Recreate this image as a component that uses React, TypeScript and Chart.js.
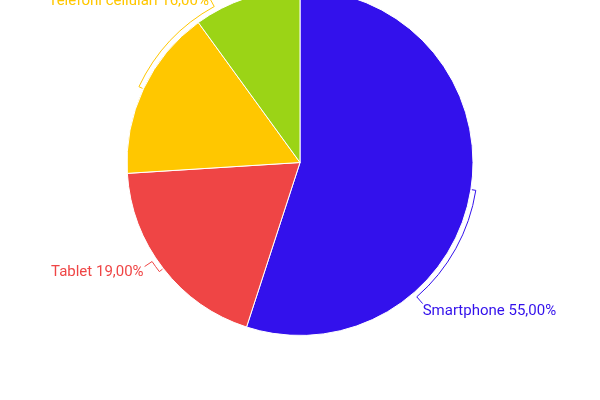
import { useEffect, useRef } from "react";
import { Chart, registerables, type ChartConfiguration, type Plugin } from "chart.js";

Chart.register(...registerables);

// device share, clockwise from 12 o'clock
const devices = ["Smartphone", "Tablet", "Telefoni cellulari", "Computer"];
const shares = [55, 19, 16, 10];
const sliceColors = ["#3311EC", "#EF4545", "#FFC700", "#9BD416"];

// label layout: push (deg) round from slice middle, and vertical nudge (px)
const labelShift = [40, 4, 36, 0];
const labelDy = [8, 5.5, 3, 3];

const fmt = (v: number) => v.toFixed(2).replace(".", ",") + "%";

const sliceLabels: Plugin<"pie"> = {
  id: "sliceLabels",
  afterDatasetsDraw(chart) {
    const ctx = chart.ctx;
    const meta = chart.getDatasetMeta(0);
    meta.data.forEach((el, i) => {
      const { x, y, startAngle, endAngle, outerRadius } = (el as any).getProps(
        ["x", "y", "startAngle", "endAngle", "outerRadius"],
        true
      );
      const mid = (startAngle + endAngle) / 2;
      const la = mid + (labelShift[i] * Math.PI) / 180;
      const r0 = outerRadius + 1;
      const r1 = outerRadius + 5;
      const r2 = outerRadius + 14;
      const color = sliceColors[i];

      ctx.save();
      ctx.strokeStyle = color;
      ctx.lineWidth = 1;
      ctx.beginPath();
      ctx.moveTo(x + r0 * Math.cos(mid), y + r0 * Math.sin(mid));
      ctx.lineTo(x + r1 * Math.cos(mid), y + r1 * Math.sin(mid));
      ctx.arc(x, y, r1, mid, la, la < mid);
      const ax = x + r2 * Math.cos(la);
      const ay = y + r2 * Math.sin(la);
      ctx.lineTo(ax, ay);
      ctx.stroke();

      ctx.fillStyle = color;
      ctx.font = "15px Roboto";
      ctx.textBaseline = "middle";
      const right = Math.cos(la) >= 0;
      ctx.textAlign = right ? "left" : "right";
      ctx.fillText(`${devices[i]} ${fmt(shares[i])}`, right ? ax : ax - 1, ay + labelDy[i]);
      ctx.restore();
    });
  },
};

export default function App() {
  const canvasRef = useRef<HTMLCanvasElement>(null);
  const chartRef = useRef<Chart | null>(null);

  useEffect(() => {
    const ctx = canvasRef.current?.getContext("2d");
    if (!ctx) return;
    chartRef.current?.destroy();

    const config: ChartConfiguration<"pie"> = {
      type: "pie",
      data: {
        labels: devices,
        datasets: [
          {
            data: shares,
            backgroundColor: sliceColors,
            borderColor: "#FFFFFF",
            borderWidth: 1,
          },
        ],
      },
      options: {
        responsive: true,
        maintainAspectRatio: false,
        animation: false,
        layout: { padding: { top: 0, bottom: 64, left: 0, right: 0 } },
        plugins: {
          legend: { display: false },
          tooltip: { enabled: false },
        },
      },
      plugins: [sliceLabels],
    };

    chartRef.current = new Chart(ctx, config);
    return () => chartRef.current?.destroy();
  }, []);

  // the pie runs off the top edge, so the canvas starts above the page
  return (
    <div style={{ position: "fixed", left: 0, top: -11, width: 600, height: 411, background: "#fff" }}>
      <canvas ref={canvasRef} />
    </div>
  );
}
